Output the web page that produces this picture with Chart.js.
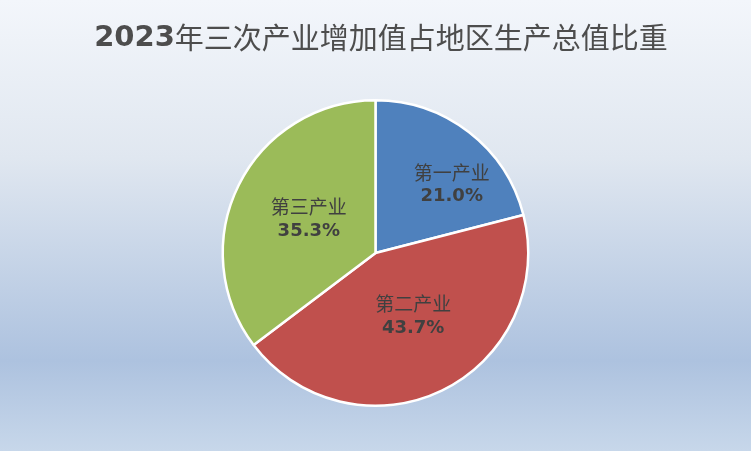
<!DOCTYPE html>
<html>
<head>
<meta charset="utf-8">
<script src="https://cdn.jsdelivr.net/npm/chart.js@4"></script>
<style>
  html, body { margin: 0; padding: 0; }
  #wrap { width: 751px; height: 451px; }
</style>
</head>
<body>
<div id="wrap"><canvas id="chart"></canvas></div>
<script>
const titleYear = '2023';
const titleRest = '年三次产业增加值占地区生产总值比重';
const categories = ['第一产业', '第二产业', '第三产业'];
const shares = [21.0, 43.7, 35.3];
const sliceColors = ['#4F81BD', '#C0504D', '#9BBB59'];

// label nudges per slice: angle shift (rad) and fraction of radius
const labelPlace = [
    { da: 0.18, rf: 0.67 },
    { da: -0.09, rf: 0.48 },
    { da: 0.01, rf: 0.49 }
];

const backgroundPlugin = {
    id: 'bg',
    beforeDraw(chart) {
        const ctx = chart.ctx;
        const g = ctx.createLinearGradient(0, 0, 0, chart.height);
        g.addColorStop(0, '#f3f6fb');
        g.addColorStop(0.35, '#e0e7f0');
        g.addColorStop(0.8, '#adc2df');
        g.addColorStop(1, '#c7d7ea');
        ctx.save();
        ctx.fillStyle = g;
        ctx.fillRect(0, 0, chart.width, chart.height);
        ctx.restore();
    }
};

const titlePlugin = {
    id: 'mixedTitle',
    afterDraw(chart) {
        const ctx = chart.ctx;
        const boldFont = 'bold 29px "DejaVu Sans"';
        const cjkFont = '29px "Noto Sans CJK SC"';
        ctx.save();
        ctx.fillStyle = '#4d4d4d';
        ctx.textBaseline = 'middle';
        ctx.font = boldFont;
        const w1 = ctx.measureText(titleYear).width;
        ctx.font = cjkFont;
        const w2 = ctx.measureText(titleRest).width;
        let x = 381 - (w1 + w2) / 2;
        const y = 38;
        ctx.font = boldFont;
        ctx.fillText(titleYear, x, y);
        ctx.font = cjkFont;
        ctx.fillText(titleRest, x + w1, y);
        ctx.restore();
    }
};

const labelPlugin = {
    id: 'sliceLabels',
    afterDatasetsDraw(chart) {
        const ctx = chart.ctx;
        const meta = chart.getDatasetMeta(0);
        ctx.save();
        ctx.fillStyle = '#404040';
        ctx.textAlign = 'center';
        ctx.textBaseline = 'middle';
        meta.data.forEach((arc, i) => {
            const p = arc.getProps(['x', 'y', 'startAngle', 'endAngle', 'outerRadius'], true);
            const mid = (p.startAngle + p.endAngle) / 2 + labelPlace[i].da;
            const r = p.outerRadius * labelPlace[i].rf;
            const lx = p.x + Math.cos(mid) * r;
            const ly = p.y + Math.sin(mid) * r;
            ctx.font = '19px "Noto Sans CJK SC"';
            ctx.fillText(categories[i], lx, ly - 12);
            ctx.font = 'bold 18px "DejaVu Sans"';
            ctx.fillText(shares[i].toFixed(1) + '%', lx, ly + 12);
        });
        ctx.restore();
    }
};

new Chart(document.getElementById('chart'), {
    type: 'pie',
    data: {
        labels: categories,
        datasets: [{
            data: shares,
            backgroundColor: sliceColors,
            borderColor: '#ffffff',
            borderWidth: 2.5
        }]
    },
    options: {
        responsive: true,
        maintainAspectRatio: false,
        animation: false,
        layout: { padding: { top: 99, bottom: 44 } },
        plugins: {
            legend: { display: false },
            title: { display: false },
            tooltip: { enabled: false }
        }
    },
    plugins: [backgroundPlugin, titlePlugin, labelPlugin]
});
</script>
</body>
</html>
